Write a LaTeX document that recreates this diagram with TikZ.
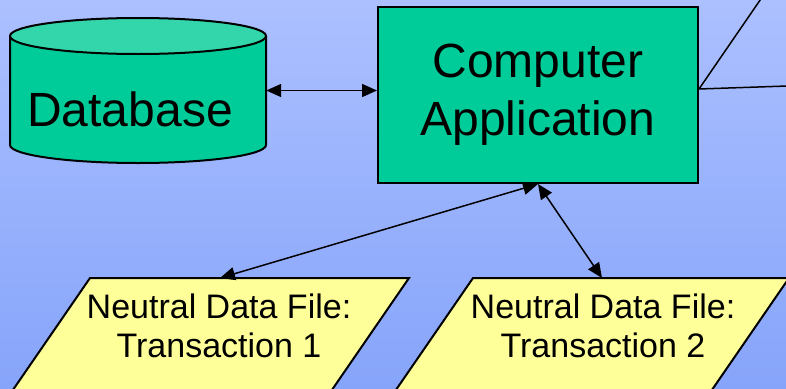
\documentclass[tikz,border=0pt]{standalone}
\usepackage{fontspec}
\setmainfont{Liberation Sans}
\usetikzlibrary{arrows.meta}
\definecolor{skytop}{RGB}{172,192,255}
\definecolor{skybot}{RGB}{134,164,250}
\definecolor{appgreen}{RGB}{0,204,153}
\definecolor{lidgreen}{RGB}{51,214,170}
\definecolor{fileyellow}{RGB}{255,255,153}
\begin{document}
\begin{tikzpicture}[x=1pt,y=-1pt,
  outline/.style={draw=black,line width=2pt,line join=miter},
  link/.style={draw=black,line width=1.5pt,{Triangle[length=15pt,width=13pt]}-{Triangle[length=15pt,width=13pt]}},
  plain/.style={draw=black,line width=1.5pt},
  bigtext/.style={font=\fontsize{48}{58}\selectfont,align=center},
  filetext/.style={font=\fontsize{34}{39}\selectfont,align=center,inner sep=0pt},
  filebox/.style={outline,fill=fileyellow}]
\useasboundingbox (0,0) rectangle (786,388);
\clip (0,0) rectangle (786,388);
% backdrop
\shade[top color=skytop,bottom color=skybot] (0,0) rectangle (786,388);

% database cylinder
\fill[appgreen] (10,36) -- (10,145)
  arc[start angle=180,end angle=360,x radius=128pt,y radius=18pt] -- (266,36) -- cycle;
\draw[outline] (10,36) -- (10,145)
  arc[start angle=180,end angle=360,x radius=128pt,y radius=18pt] -- (266,36);
\draw[outline,fill=lidgreen] (138,36) ellipse[x radius=128pt,y radius=18pt];
\node[inner sep=0pt,minimum width=256pt,minimum height=145pt] (db) at (138,90.5) {};
\node[bigtext,inner sep=0pt] (dblabel) at (130,109) {Database};

% application box
\node[outline,fill=appgreen,minimum width=320pt,minimum height=176pt,inner sep=0pt,bigtext]
  (app) at (538,95) {Computer\\Application};

% neutral data files
\filldraw[filebox] (90,278) -- (409,278) -- (325,400) -- (6,400) -- cycle;
\filldraw[filebox] (473,278) -- (789,278) -- (705,400) -- (389,400) -- cycle;
\node[filetext] (f1) at (219,326) {Neutral Data File:\\Transaction 1};
\node[filetext] (f2) at (603,326) {Neutral Data File:\\Transaction 2};
\coordinate (f1top) at (220,278);
\coordinate (f2top) at (602,278);

% connectors
\draw[link] (db.east) -- (db.east -| app.west);
\draw[link] (app.south) -- (f1top);
\draw[link] (app.south) -- (f2top);

% outgoing lines on the right
\coordinate (fork) at ([yshift=6pt]app.east);
\coordinate (exitA) at (767,-10);
\coordinate (exitB) at (796,85.7);
\draw[plain] (exitA) -- (fork) -- (exitB);
\end{tikzpicture}
\end{document}
